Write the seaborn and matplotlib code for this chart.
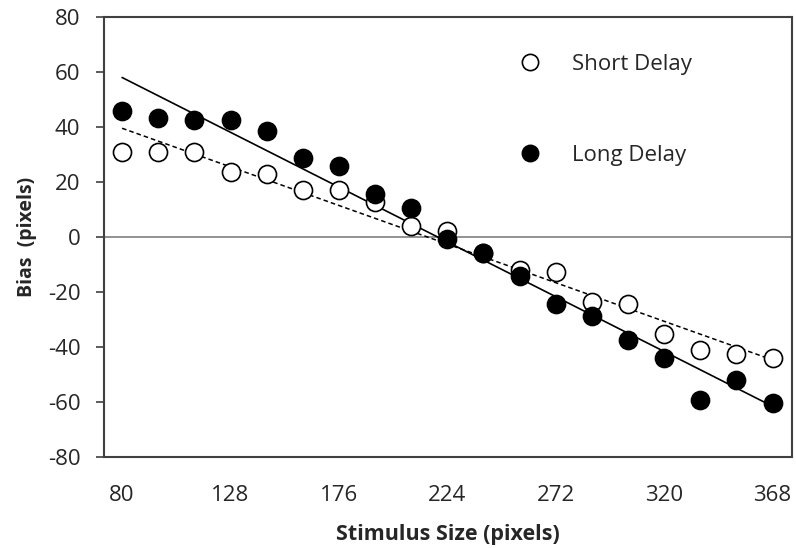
import matplotlib
matplotlib.use("Agg")
import matplotlib.pyplot as plt
import seaborn as sns
import pandas as pd

# stimulus sizes (pixels)
sizes = [80, 96, 112, 128, 144, 160, 176, 192, 208, 224, 240, 256, 272, 288, 304, 320, 336, 352, 368]
# bias for short delay (open circles)
short_bias = [30.9, 31.0, 31.0, 23.6, 23.0, 17.0, 17.0, 12.7, 4.0, 2.2, -5.8, -12.0, -12.7,
              -23.6, -24.4, -35.3, -41.0, -42.5, -44.0]
# bias for long delay (filled circles)
long_bias = [45.8, 43.3, 42.5, 42.5, 38.5, 28.7, 25.8, 15.6, 10.5, -0.7, -5.8, -14.2, -24.4,
             -28.7, -37.5, -44.0, -59.3, -52.0, -60.4]
x_ticks = [80, 128, 176, 224, 272, 320, 368]
y_ticks = [-80, -60, -40, -20, 0, 20, 40, 60, 80]

df = pd.DataFrame({"size": sizes, "short": short_bias, "long": long_bias})

sns.set_style("white")
plt.rcParams['font.family'] = ['Open Sans', 'DejaVu Sans']
plt.rcParams['axes.unicode_minus'] = False

fig = plt.figure(figsize=(7.96, 5.48), dpi=100)
ax = fig.add_axes([0.1307, 0.166, 0.864, 0.803])

# zero reference line
ax.axhline(0, color='#7f7f7f', lw=1.2, zorder=1)

# regression lines
sns.regplot(data=df, x="size", y="short", ci=None, scatter=False, ax=ax,
            line_kws=dict(color='black', lw=1.1, linestyle=(0, (3, 2))))
sns.regplot(data=df, x="size", y="long", ci=None, scatter=False, ax=ax,
            line_kws=dict(color='black', lw=1.2))

# points
ax.plot(df["size"], df["short"], 'o', ms=13, mfc='white', mec='black', mew=1.2,
        label='Short Delay', zorder=3)
ax.plot(df["size"], df["long"], 'o', ms=13, mfc='black', mec='black', mew=1.2,
        label='Long Delay', zorder=3)

ax.set_xlim(72, 376.5)
ax.set_ylim(-80, 80)
ax.set_xticks(x_ticks)
ax.set_yticks(y_ticks)
ax.tick_params(axis='y', length=6, width=1.2, color='#404040', direction='out', left=True,
               labelsize=16, labelcolor='#262626', pad=11)
ax.tick_params(axis='x', length=0, labelsize=16, labelcolor='#262626', pad=20)

for s in ax.spines.values():
    s.set_color('#404040')
    s.set_linewidth(1.5)

ax.set_xlabel("Stimulus Size (pixels)", fontsize=15.5, fontweight='bold', color='#262626', labelpad=13)
ax.set_ylabel("Bias  (pixels)", fontsize=14, fontweight='bold', color='#262626', labelpad=8)

ax.legend(loc='upper left', bbox_to_anchor=(0.587, 0.942), frameon=False, markerscale=0.9,
          borderpad=0, handlelength=1, labelspacing=3.15, handletextpad=1.4,
          fontsize=16, labelcolor='#262626')

fig.savefig("out.png", dpi=100)
